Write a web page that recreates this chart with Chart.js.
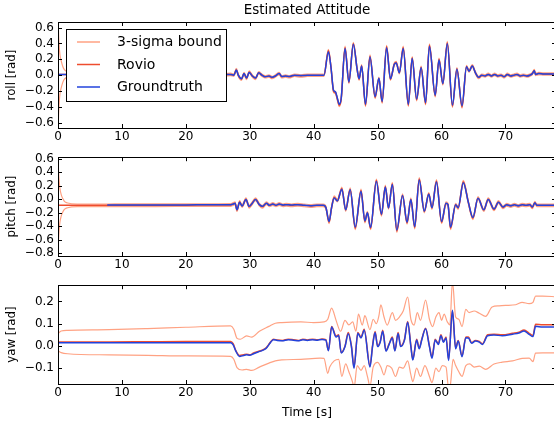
<!DOCTYPE html>
<html>
<head>
<meta charset="utf-8">
<script src="https://cdn.jsdelivr.net/npm/chart.js@4.4.0/dist/chart.umd.min.js"></script>
<style>
  html, body { margin: 0; padding: 0; background: #fff; overflow: hidden; width: 554px; height: 426px; }
  canvas { position: absolute; left: 0; }
</style>
</head>
<body>
<canvas id="cRoll" width="558" height="146" style="top:0px"></canvas>
<canvas id="cPitch" width="558" height="128" style="top:146px"></canvas>
<canvas id="cYaw" width="558" height="152" style="top:274px"></canvas>
<script>
// ---- roll ----
const rollTime = [
  0, 0.05, 0.15, 0.3, 0.5, 0.75, 1.0, 1.5, 3,
  8, 15, 22, 26,
  27.0, 27.5, 27.9, 28.2, 28.7, 29.1, 29.5, 29.9, 30.4, 30.9,
  31.4, 31.9, 32.4, 33.0, 33.5, 34.0, 34.6, 35.0, 35.6, 36.2,
  37.0, 38.0, 39.0, 40.0, 41.0, 41.6,
  42.3, 42.7, 43.1, 43.4, 43.7, 44.0, 44.3, 44.9, 45.5, 46.2,
  46.8, 47.1, 47.5, 48.1, 48.8, 49.6, 50.2, 50.7, 51.4, 52.0,
  52.6, 52.9, 53.4, 54.0, 54.8, 55.4, 56.1, 56.8, 57.5, 58.1,
  59.0, 59.6, 60.2, 60.9, 61.7, 62.4, 63.2, 63.9, 64.3, 64.8,
  65.3, 65.8, 66.3, 66.8, 67.3, 67.8, 68.3, 68.8, 69.3, 69.8,
  70.3, 70.8, 71.3, 71.8, 72.3, 72.8, 73.3, 73.8, 74.2, 74.5,
  74.7, 75.2, 76.0, 77.0, 78.0
];
const rollRovio = [
  0.01, 0.01, 0.01, 0.01, 0.01, 0.01, 0.01, 0.01, 0.01,
  0.005, 0.005, 0.005, 0.005,
  0.01, 0.0, 0.07, 0.0, -0.05, 0.02, -0.04, 0.04, -0.01, -0.04,
  0.03, 0.0, -0.02, -0.01, -0.03, -0.01, 0.02, -0.02, -0.01, -0.02,
  0.0, -0.01, 0.0, 0.0, 0.0, 0.0,
  0.31, 0.10, -0.20, -0.22, -0.30, -0.38, -0.30, 0.35, -0.09, 0.40,
  0.07, -0.05, 0.12, -0.38, 0.24, -0.28, -0.04, -0.34, 0.36, -0.05,
  0.14, 0.16, 0.03, 0.35, -0.38, 0.22, -0.31, 0.10, -0.36, 0.38,
  -0.26, 0.20, -0.11, 0.41, -0.39, 0.08, -0.40, 0.11, 0.05, 0.12,
  0.03, -0.03, 0.0, -0.01, 0.01, -0.01, 0.01, -0.01, 0.0, -0.02,
  0.01, -0.01, 0.0, 0.01, -0.01, 0.0, -0.01, 0.0, 0.02, 0.06,
  0.01, 0.02, 0.015, 0.015, 0.015
];
const rollGt = [
  0.01, 0.01, 0.01, 0.01, 0.01, 0.01, 0.01, 0.01, 0.01,
  0.005, 0.005, 0.005, 0.005,
  0.01, 0.0, 0.065, 0.0, -0.045, 0.02, -0.035, 0.035, -0.01, -0.035,
  0.03, 0.0, -0.02, -0.01, -0.025, -0.01, 0.02, -0.015, -0.01, -0.015,
  0.0, -0.005, 0.0, 0.0, 0.0, 0.0,
  0.295, 0.10, -0.19, -0.21, -0.29, -0.365, -0.29, 0.335, -0.085, 0.39,
  0.07, -0.045, 0.115, -0.365, 0.23, -0.27, -0.04, -0.33, 0.345, -0.045,
  0.135, 0.155, 0.03, 0.335, -0.365, 0.21, -0.30, 0.095, -0.345, 0.365,
  -0.25, 0.19, -0.105, 0.395, -0.375, 0.075, -0.385, 0.105, 0.05, 0.115,
  0.03, -0.025, 0.0, -0.01, 0.01, -0.01, 0.01, -0.01, 0.0, -0.02,
  0.01, -0.01, 0.0, 0.01, -0.01, 0.0, -0.01, 0.0, 0.02, 0.055,
  0.01, 0.02, 0.015, 0.015, 0.015
];
// 3-sigma half width, read at these times (holds until the next one)
const sigmaTime = [0, 0.05, 0.15, 0.3, 0.5, 0.75, 1.0, 1.5, 3];
const rollSigma = [0.9, 0.62, 0.4, 0.25, 0.17, 0.1, 0.06, 0.035, 0.015];
const pitchSigma = [0.9, 0.6, 0.4, 0.25, 0.16, 0.1, 0.06, 0.035, 0.02];

// ---- pitch ----
const pitchTime = [
  0, 0.05, 0.15, 0.3, 0.5, 0.75, 1.0, 1.5, 3,
  5, 7.7, 10, 15, 20, 25, 27.0,
  27.4, 27.7, 28.0, 28.4, 28.8, 29.4, 29.9, 30.3, 30.9, 31.5,
  32.0, 32.6, 33.1, 33.6, 34.1, 34.6, 35.2, 35.7, 36.5, 37.5,
  38.5, 39.5, 40.5, 41.5, 41.9, 42.4,
  42.8, 43.2, 43.7, 44.4, 45.0, 45.7, 46.5, 47.4, 48.0, 48.4,
  48.9, 49.8, 50.6, 51.2, 51.7, 52.3, 53.0, 53.9, 54.6, 55.2,
  55.8, 56.5, 57.3, 58.0, 58.5, 59.2, 60.0, 60.7, 61.0, 61.4,
  62.2, 62.6, 63.4, 64.2, 64.9, 65.7, 66.6, 67.3, 68.2, 68.9,
  69.6, 70.2, 70.8, 71.4, 72.0, 72.6, 73.2, 73.8, 74.2, 74.6,
  74.9, 76.0, 78.0
];
const pitchRovio = [
  -0.09, -0.09, -0.09, -0.09, -0.09, -0.09, -0.09, -0.09, -0.09,
  -0.09, -0.09, -0.088, -0.088, -0.087, -0.086, -0.085,
  -0.07, -0.06, -0.16, -0.04, -0.10, 0.0, -0.11, -0.07, 0.0, -0.08,
  -0.11, -0.06, -0.09, -0.07, -0.09, -0.07, -0.09, -0.08, -0.09, -0.08,
  -0.09, -0.10, -0.09, -0.09, -0.12, -0.34,
  -0.12, 0.03, -0.02, 0.16, -0.16, 0.15, -0.43, 0.13, -0.33, -0.20,
  -0.43, 0.28, -0.23, 0.19, -0.13, 0.23, -0.47, 0.06, -0.35, 0.0,
  -0.42, 0.30, -0.18, 0.08, -0.13, 0.27, -0.34, -0.06, -0.08, -0.43,
  -0.08, -0.13, 0.26, -0.05, -0.28, 0.02, -0.16, 0.0, -0.15, -0.04,
  -0.12, -0.08, -0.10, -0.08, -0.10, -0.08, -0.09, -0.08, -0.12, -0.05,
  -0.09, -0.09, -0.09
];
const pitchGt = [
  null, null, null, null, null, null, null, null, null,
  null, -0.085, -0.084, -0.084, -0.083, -0.082, -0.082,
  -0.07, -0.06, -0.155, -0.045, -0.10, -0.005, -0.105, -0.07, -0.005, -0.08,
  -0.105, -0.06, -0.09, -0.07, -0.09, -0.07, -0.085, -0.08, -0.085, -0.08,
  -0.09, -0.095, -0.09, -0.09, -0.12, -0.33,
  -0.12, 0.02, -0.025, 0.15, -0.155, 0.14, -0.41, 0.12, -0.32, -0.20,
  -0.415, 0.265, -0.22, 0.18, -0.13, 0.22, -0.455, 0.055, -0.34, -0.005,
  -0.405, 0.285, -0.175, 0.075, -0.125, 0.255, -0.33, -0.06, -0.08, -0.415,
  -0.08, -0.125, 0.245, -0.05, -0.27, 0.015, -0.155, -0.005, -0.145, -0.045,
  -0.115, -0.08, -0.095, -0.08, -0.095, -0.08, -0.09, -0.08, -0.115, -0.05,
  -0.09, -0.09, -0.09
];

// ---- yaw ----
const yawTime = [
  0, 0.5, 1.5, 8, 14, 20, 27,
  27.4, 27.8, 28.4, 29.0, 29.5, 30.0, 30.6, 31.3, 32.0, 32.5,
  32.8, 33.3, 33.7, 34.3, 35.1, 36.0, 36.8, 37.6, 38.3, 39.0,
  39.8, 40.6, 41.3, 41.9, 42.3, 42.8, 43.5, 43.9, 44.3, 44.9,
  45.4, 45.9, 46.3, 46.9, 47.4, 47.9, 48.8, 49.2, 49.6, 50.0,
  50.4, 50.8, 51.3, 51.8, 52.3, 52.7, 53.2, 53.6, 54.2, 54.7,
  55.2, 55.5, 56.1, 56.5, 56.9, 57.5, 58.1, 58.5, 59.0, 59.5,
  59.9, 60.3, 60.7, 61.1, 61.7, 62.2, 62.6, 63.2, 63.8, 64.2,
  64.7, 65.3, 65.9, 66.4, 67.2, 68.2, 69.5, 71.1, 72.1, 72.9,
  73.7, 74.3, 74.7, 75.8, 78.0
];
const yawRovio = [
  0.017, 0.018, 0.018, 0.018, 0.019, 0.02, 0.02,
  0.01, -0.02, -0.043, -0.04, -0.037, -0.04, -0.032, -0.025, -0.018, -0.01,
  0.0, 0.02, 0.03, 0.027, 0.025, 0.03, 0.028, 0.025, 0.03, 0.027,
  0.03, 0.028, 0.031, 0.028, -0.02, 0.087, 0.045, 0.05, -0.03, 0.0,
  0.06, 0.0, -0.095, 0.06, 0.04, 0.075, -0.09, 0.0, 0.065, 0.0,
  0.02, 0.07, -0.02, 0.01, 0.04, -0.02, 0.06, 0.0, 0.03, 0.11,
  0.0, -0.06, 0.03, -0.01, 0.03, 0.08, 0.0, -0.05, 0.03, 0.01,
  0.05, 0.02, 0.04, -0.06, 0.157, -0.01, 0.025, -0.045, 0.04, 0.04,
  0.015, 0.025, 0.02, 0.01, 0.05, 0.053, 0.05, 0.057, 0.062, 0.072,
  0.057, 0.047, 0.097, 0.095, 0.095
];
const yawGt = [
  0.014, 0.014, 0.014, 0.014, 0.014, 0.014, 0.014,
  0.005, -0.022, -0.047, -0.043, -0.04, -0.042, -0.035, -0.027, -0.02, -0.012,
  -0.002, 0.018, 0.028, 0.025, 0.023, 0.028, 0.026, 0.023, 0.028, 0.025,
  0.028, 0.026, 0.029, 0.026, -0.022, 0.085, 0.04, 0.047, -0.032, -0.003,
  0.055, -0.003, -0.1, 0.057, 0.036, 0.07, -0.095, -0.003, 0.06, -0.003,
  0.017, 0.066, -0.023, 0.007, 0.036, -0.023, 0.056, -0.003, 0.026, 0.107,
  -0.003, -0.063, 0.027, -0.013, 0.027, 0.077, -0.003, -0.055, 0.027, 0.007,
  0.046, 0.017, 0.036, -0.065, 0.16, -0.013, 0.022, -0.048, 0.037, 0.036,
  0.012, 0.022, 0.017, 0.007, 0.046, 0.049, 0.046, 0.053, 0.058, 0.067,
  0.052, 0.042, 0.088, 0.085, 0.085
];
const yawUpperTime = [
  0, 0.5, 1.5, 8, 14, 20, 27, 27.5, 28, 28.5,
  29.5, 30.3, 31.5, 33, 34, 35, 38, 40, 41.6, 42.2,
  42.8, 43.5, 44.2, 44.9, 45.5, 46.1, 46.6, 47.0, 47.6, 48.0,
  48.8, 49.3, 49.8, 50.2, 50.5, 51.0, 51.5, 52.3, 52.8, 53.4,
  54.0, 54.7, 55.2, 55.7, 56.2, 56.7, 57.5, 58.1, 58.6, 59.1,
  59.6, 60.0, 60.4, 60.9, 61.3, 61.7, 62.2, 62.7, 63.2, 63.8,
  64.3, 65.1, 65.9, 66.9, 67.9, 69.0, 70.0, 71.6, 72.6, 73.7,
  74.3, 74.7, 75.8, 78
];
const yawUpper = [
  0.055, 0.067, 0.07, 0.073, 0.078, 0.084, 0.09, 0.075, 0.034, 0.03,
  0.045, 0.04, 0.066, 0.088, 0.102, 0.105, 0.108, 0.105, 0.108, 0.12,
  0.17, 0.115, 0.066, 0.115, 0.095, 0.108, 0.066, 0.143, 0.094, 0.136,
  0.073, 0.12, 0.1, 0.136, 0.185, 0.13, 0.094, 0.15, 0.115, 0.13,
  0.157, 0.22, 0.12, 0.094, 0.15, 0.115, 0.206, 0.12, 0.087, 0.13,
  0.15, 0.115, 0.143, 0.108, 0.095, 0.29, 0.13, 0.12, 0.087, 0.164,
  0.15, 0.157, 0.147, 0.133, 0.175, 0.18, 0.182, 0.185, 0.196, 0.19,
  0.196, 0.224, 0.224, 0.221
];
const yawLowerTime = [
  0, 0.5, 1.5, 8, 14, 20, 27, 27.5, 28, 28.8,
  29.5, 30.3, 31.5, 33, 34, 35, 38, 41, 41.6, 42.2,
  42.5, 43.2, 43.9, 44.4, 45.0, 45.5, 46.1, 46.3, 46.8, 47.4,
  47.9, 48.4, 48.8, 49.3, 50.0, 50.5, 51.0, 51.5, 52.2, 52.8,
  53.4, 54.0, 54.7, 55.2, 55.5, 56.1, 56.7, 57.4, 58.1, 58.5,
  59.1, 59.6, 60.1, 60.7, 61.1, 61.4, 61.8, 62.2, 62.7, 63.2,
  63.8, 64.4, 65.1, 65.9, 66.9, 68.2, 69.5, 71.1, 72.6, 73.7,
  74.3, 74.7, 75.8, 78
];
const yawLower = [
  -0.022, -0.03, -0.035, -0.04, -0.042, -0.045, -0.047, -0.06, -0.097, -0.108,
  -0.105, -0.11, -0.095, -0.077, -0.067, -0.063, -0.06, -0.055, -0.056, -0.123,
  -0.095, -0.067, -0.06, -0.137, -0.081, -0.116, -0.165, -0.19, -0.088, -0.11,
  -0.088, -0.137, -0.18, -0.095, -0.074, -0.095, -0.13, -0.088, -0.1, -0.137,
  -0.095, -0.1, -0.067, -0.13, -0.16, -0.1, -0.137, -0.088, -0.137, -0.165,
  -0.1, -0.116, -0.088, -0.095, -0.19, -0.17, -0.06, -0.088, -0.116, -0.137,
  -0.088, -0.081, -0.095, -0.091, -0.105, -0.081, -0.073, -0.067, -0.056, -0.055,
  -0.07, -0.032, -0.031, -0.031
];

const legendLabels = ['3-sigma bound', 'Rovio', 'Groundtruth'];
const xTicksStep = 10;

const COL_BOUND = '#ffa283';
const COL_ROVIO = '#ee4d2e';
const COL_GT = '#2243dd';
const FONT = 'DejaVu Sans';

function pts(ts, vs) {
  return ts.map((t, i) => ({ x: t, y: vs[i] }));
}
function band(ts, vs, sT, sV, sign) {
  return ts.map((t, i) => {
    let s = sV[0];
    for (let k = 0; k < sT.length; k++) if (t >= sT[k]) s = sV[k];
    return { x: t, y: vs[i] + sign * s };
  });
}
function line(data, color, width, order) {
  return {
    data: data, borderColor: color, borderWidth: width, pointRadius: 0,
    fill: false, cubicInterpolationMode: 'monotone', order: order, clip: 0
  };
}
function fmt(v) {
  if (Math.abs(v) < 1e-9) return '0.0';
  return (v < 0 ? '\u2212' : '') + Math.abs(v).toFixed(1);
}

// inward ticks on all four sides and the axes box
const framePlugin = {
  id: 'frame',
  afterDraw(chart) {
    const { ctx, chartArea: a, scales: { x, y } } = chart;
    ctx.save();
    ctx.strokeStyle = '#000';
    ctx.lineWidth = 1;
    ctx.beginPath();
    x.ticks.forEach(t => {
      const px = Math.round(x.getPixelForValue(t.value)) + 0.5;
      ctx.moveTo(px, a.bottom); ctx.lineTo(px, a.bottom - 4);
      ctx.moveTo(px, a.top); ctx.lineTo(px, a.top + 4);
    });
    y.ticks.forEach(t => {
      const py = Math.round(y.getPixelForValue(t.value)) + 0.5;
      ctx.moveTo(a.left, py); ctx.lineTo(a.left + 4, py);
      ctx.moveTo(a.right, py); ctx.lineTo(a.right - 4, py);
    });
    ctx.stroke();
    ctx.strokeRect(Math.round(a.left) + 0.5, Math.round(a.top) + 0.5,
      Math.round(a.right - a.left), Math.round(a.bottom - a.top));
    ctx.restore();
  }
};

const legendPlugin = {
  id: 'boxLegend',
  afterDatasetsDraw(chart) {
    const ctx = chart.ctx;
    const cols = [COL_BOUND, COL_ROVIO, COL_GT];
    ctx.save();
    ctx.fillStyle = '#fff';
    ctx.fillRect(66.5, 29.5, 160, 72);
    ctx.strokeStyle = '#000';
    ctx.lineWidth = 1;
    ctx.strokeRect(66.5, 29.5, 160, 72);
    ctx.font = '14px "' + FONT + '"';
    ctx.textBaseline = 'middle';
    legendLabels.forEach((lab, i) => {
      const yy = 42 + i * 22.5;
      ctx.strokeStyle = cols[i];
      ctx.lineWidth = 1.5;
      ctx.beginPath();
      ctx.moveTo(77, yy); ctx.lineTo(100, yy);
      ctx.stroke();
      ctx.fillStyle = '#000';
      ctx.fillText(lab, 117, yy + 0.5);
    });
    ctx.restore();
  }
};

function makeChart(id, datasets, cfg) {
  const tickFont = { family: FONT, size: 12 };
  return new Chart(document.getElementById(id), {
    type: 'line',
    data: { datasets: datasets },
    plugins: cfg.legend ? [legendPlugin, framePlugin] : [framePlugin],
    options: {
      responsive: false, animation: false, devicePixelRatio: 1, events: [],
      layout: { padding: { top: cfg.padTop, right: 2, left: 0, bottom: 0 } },
      plugins: {
        legend: { display: false },
        tooltip: { enabled: false },
        title: cfg.title ? {
          display: true, text: cfg.title, color: '#000', fullSize: false,
          font: { family: FONT, size: 13.5, weight: 'normal' },
          padding: { top: 2, bottom: 3.8 }
        } : { display: false }
      },
      scales: {
        x: {
          type: 'linear', min: 0, max: 77.9,
          grid: { display: false, drawTicks: false },
          border: { display: false },
          ticks: { stepSize: xTicksStep, includeBounds: false, autoSkip: false, color: '#000', font: tickFont, padding: 2, maxRotation: 0 },
          title: cfg.xTitle ? { display: true, text: cfg.xTitle, color: '#000', font: { family: FONT, size: 12.3 }, padding: { top: 0, bottom: 6 } } : { display: false },
          afterFit: s => { s.height = cfg.xHeight; }
        },
        y: {
          min: cfg.yMin, max: cfg.yMax,
          grid: { display: false, drawTicks: false },
          border: { display: false },
          ticks: { stepSize: cfg.yStep, includeBounds: false, autoSkip: false, color: '#000', font: tickFont, padding: 4, callback: v => fmt(v) },
          title: { display: true, text: cfg.yTitle, color: '#000', font: { family: FONT, size: 11.8 }, padding: { top: 5, bottom: 0 } },
          afterFit: s => { s.width = 58; }
        }
      }
    }
  });
}

makeChart('cRoll', [
  line(band(rollTime, rollRovio, sigmaTime, rollSigma, 1), COL_BOUND, 1.2, 3),
  line(band(rollTime, rollRovio, sigmaTime, rollSigma, -1), COL_BOUND, 1.2, 3),
  line(pts(rollTime, rollRovio), COL_ROVIO, 1.5, 2),
  line(pts(rollTime, rollGt), COL_GT, 1.5, 1)
], { padTop: 0, title: 'Estimated Attitude', legend: true, xHeight: 18,
     yMin: -0.665, yMax: 0.67, yStep: 0.2, yTitle: 'roll [rad]' });

makeChart('cPitch', [
  line(band(pitchTime, pitchRovio, sigmaTime, pitchSigma, 1), COL_BOUND, 1.2, 3),
  line(band(pitchTime, pitchRovio, sigmaTime, pitchSigma, -1), COL_BOUND, 1.2, 3),
  line(pts(pitchTime, pitchRovio), COL_ROVIO, 1.5, 2),
  line(pts(pitchTime, pitchGt), COL_GT, 1.5, 1)
], { padTop: 4, xHeight: 18,
     yMin: -0.84, yMax: 0.623, yStep: 0.2, yTitle: 'pitch [rad]' });

makeChart('cYaw', [
  line(pts(yawUpperTime, yawUpper), COL_BOUND, 1.2, 3),
  line(pts(yawLowerTime, yawLower), COL_BOUND, 1.2, 3),
  line(pts(yawTime, yawRovio), COL_ROVIO, 1.5, 2),
  line(pts(yawTime, yawGt), COL_GT, 1.5, 1)
], { padTop: 4, xHeight: 42, xTitle: 'Time [s]',
     yMin: -0.171, yMax: 0.273, yStep: 0.1, yTitle: 'yaw [rad]' });
</script>
</body>
</html>
